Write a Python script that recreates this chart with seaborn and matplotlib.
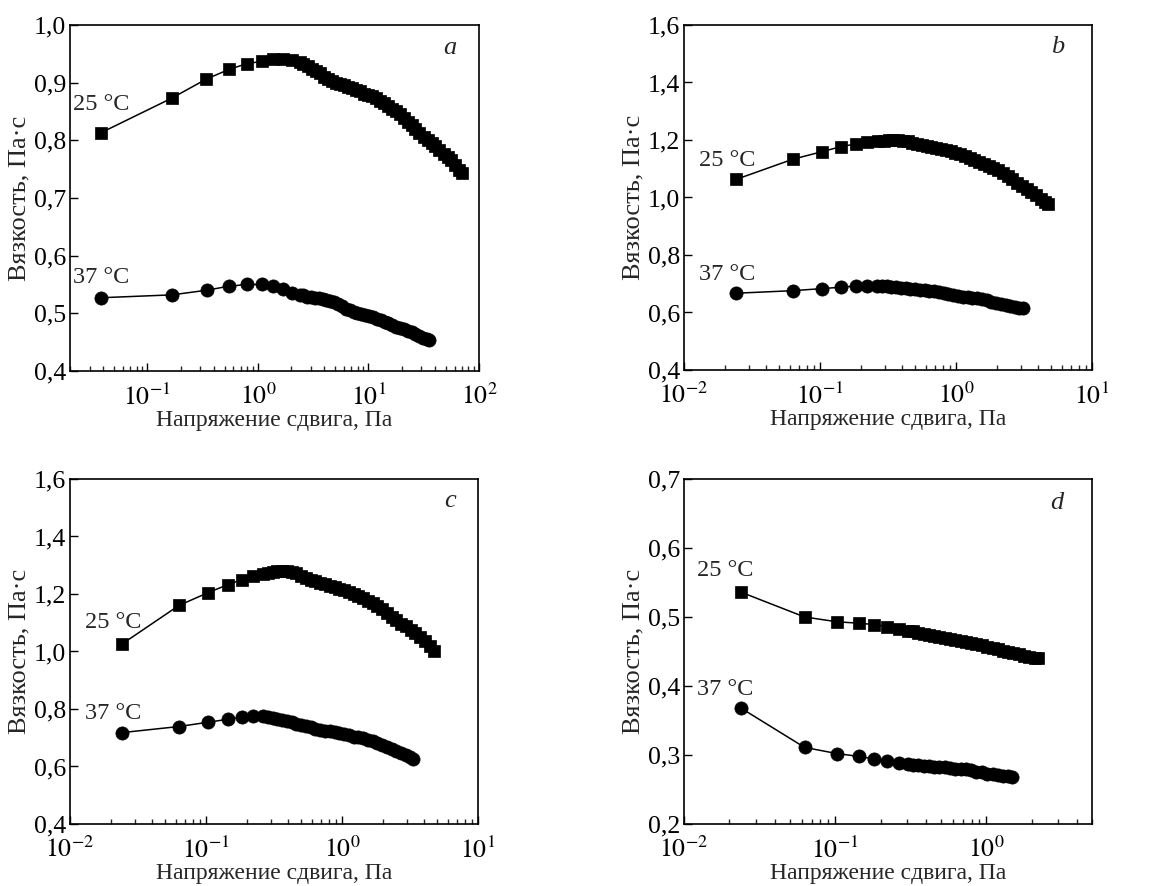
import math
import matplotlib
matplotlib.use("Agg")
import matplotlib.pyplot as plt
import seaborn as sns
from matplotlib.ticker import FuncFormatter, LogLocator, NullFormatter, FixedLocator

# ---- data (shear stress, Pa / viscosity, Pa*s) ----
a25_x = [0.038, 0.166, 0.34, 0.548, 0.796, 1.086, 1.36, 1.70, 2.02, 2.40,
         2.57, 2.82, 3.09, 3.35, 3.63, 3.98, 4.32, 4.68, 5.07, 5.50,
         6.03, 6.53, 7.08, 7.67, 8.32, 9.12, 9.89, 10.7, 11.6, 12.6,
         13.8, 15.0, 16.2, 17.6, 19.1, 20.9, 22.6, 24.5, 26.6, 28.8,
         31.6, 34.3, 37.2, 40.3, 43.7, 47.9, 51.9, 56.2, 61.0, 66.1, 70.3]
a25_y = [0.813, 0.873, 0.906, 0.923, 0.933, 0.937, 0.941, 0.941, 0.939, 0.936,
         0.933, 0.929, 0.924, 0.921, 0.916, 0.910, 0.906, 0.903, 0.900, 0.898,
         0.896, 0.893, 0.891, 0.888, 0.885, 0.881, 0.879, 0.876, 0.873, 0.869,
         0.864, 0.860, 0.855, 0.850, 0.845, 0.838, 0.832, 0.827, 0.820, 0.813,
         0.806, 0.801, 0.796, 0.790, 0.784, 0.777, 0.771, 0.765, 0.757, 0.749, 0.743]
a37_x = [0.038, 0.168, 0.343, 0.548, 0.796, 1.086, 1.36, 1.67, 2.02, 2.40,
         2.57, 2.79, 3.02, 3.27, 3.55, 3.85, 4.17, 4.52, 4.90, 5.31,
         5.75, 6.24, 6.76, 7.33, 7.94, 8.61, 9.33, 10.1, 11.0, 11.9,
         12.9, 14.0, 15.1, 16.4, 17.8, 19.3, 20.9, 22.6, 24.5, 26.6,
         28.8, 31.3, 33.5, 35.1]
a37_y = [0.527, 0.532, 0.540, 0.547, 0.550, 0.550, 0.547, 0.542, 0.536, 0.532,
         0.531, 0.529, 0.528, 0.527, 0.526, 0.525, 0.523, 0.521, 0.519, 0.516,
         0.512, 0.508, 0.505, 0.503, 0.501, 0.499, 0.497, 0.495, 0.493, 0.490,
         0.488, 0.485, 0.483, 0.480, 0.477, 0.475, 0.472, 0.470, 0.467, 0.464,
         0.461, 0.458, 0.456, 0.454]

b25_x = [0.0242, 0.0631, 0.103, 0.143, 0.183, 0.222, 0.266,
         0.295, 0.320, 0.347, 0.376, 0.407, 0.442, 0.479, 0.519, 0.562, 0.610,
         0.661, 0.716, 0.776, 0.841, 0.912, 0.989, 1.07, 1.16, 1.26, 1.36,
         1.48, 1.60, 1.74, 1.88, 2.04, 2.21, 2.40, 2.60, 2.82, 3.05,
         3.31, 3.59, 3.89, 4.22, 4.52, 4.74]
b25_y = [1.063, 1.133, 1.159, 1.177, 1.186, 1.192, 1.195,
         1.197, 1.199, 1.200, 1.200, 1.198, 1.195, 1.191, 1.187, 1.183, 1.179,
         1.175, 1.171, 1.168, 1.165, 1.161, 1.156, 1.150, 1.144, 1.139, 1.132,
         1.125, 1.118, 1.110, 1.102, 1.094, 1.085, 1.075, 1.064, 1.052, 1.041,
         1.030, 1.019, 1.007, 0.995, 0.985, 0.978]
b37_x = [0.0242, 0.0638, 0.103, 0.143, 0.183, 0.222, 0.263,
         0.285, 0.309, 0.335, 0.363, 0.394, 0.427, 0.462, 0.501, 0.543, 0.589,
         0.638, 0.692, 0.750, 0.813, 0.881, 0.955, 1.04, 1.12, 1.22, 1.32,
         1.43, 1.55, 1.68, 1.82, 1.97, 2.14, 2.32, 2.51, 2.72, 2.92, 3.09]
b37_y = [0.667, 0.676, 0.683, 0.688, 0.692, 0.693, 0.693,
         0.693, 0.692, 0.690, 0.688, 0.686, 0.684, 0.682, 0.680, 0.679, 0.677,
         0.676, 0.674, 0.672, 0.669, 0.666, 0.662, 0.658, 0.655, 0.653, 0.651,
         0.649, 0.646, 0.642, 0.638, 0.633, 0.629, 0.625, 0.621, 0.618, 0.616, 0.614]

c25_x = [0.0243, 0.0632, 0.104, 0.144, 0.184, 0.222, 0.264,
         0.285, 0.309, 0.335, 0.363, 0.394, 0.427, 0.462, 0.501, 0.543, 0.589,
         0.638, 0.692, 0.750, 0.813, 0.881, 0.955, 1.04, 1.12, 1.22, 1.32,
         1.43, 1.55, 1.68, 1.82, 1.97, 2.14, 2.32, 2.51, 2.72, 2.95,
         3.20, 3.47, 3.76, 4.07, 4.42, 4.73]
c25_y = [1.027, 1.160, 1.205, 1.232, 1.250, 1.261, 1.270,
         1.273, 1.276, 1.279, 1.281, 1.280, 1.278, 1.272, 1.264, 1.257, 1.250,
         1.244, 1.239, 1.234, 1.229, 1.224, 1.219, 1.214, 1.208, 1.201, 1.194,
         1.186, 1.177, 1.168, 1.158, 1.147, 1.133, 1.120, 1.108, 1.097, 1.087,
         1.076, 1.064, 1.050, 1.035, 1.018, 1.003]
c37_x = [0.0243, 0.0632, 0.104, 0.144, 0.184, 0.222, 0.264,
         0.285, 0.309, 0.335, 0.363, 0.394, 0.427, 0.462, 0.501, 0.543, 0.589,
         0.638, 0.692, 0.750, 0.813, 0.881, 0.955, 1.04, 1.12, 1.22, 1.32,
         1.43, 1.55, 1.68, 1.82, 1.97, 2.14, 2.32, 2.51, 2.72, 2.95, 3.16, 3.31]
c37_y = [0.718, 0.739, 0.754, 0.764, 0.771, 0.774, 0.774,
         0.772, 0.769, 0.766, 0.762, 0.758, 0.753, 0.749, 0.744, 0.740, 0.736,
         0.732, 0.728, 0.725, 0.722, 0.719, 0.716, 0.712, 0.708, 0.704, 0.701,
         0.698, 0.693, 0.687, 0.681, 0.674, 0.667, 0.660, 0.654, 0.647, 0.639, 0.632, 0.627]

d25_x = [0.0238, 0.0628, 0.103, 0.143, 0.182, 0.220, 0.263, 0.302,
         0.327, 0.355, 0.385, 0.417, 0.452, 0.490, 0.531, 0.575, 0.624, 0.676,
         0.733, 0.794, 0.861, 0.933, 1.01, 1.10, 1.19, 1.29, 1.40, 1.51,
         1.64, 1.78, 1.93, 2.09, 2.21]
d25_y = [0.536, 0.500, 0.493, 0.491, 0.489, 0.486, 0.483, 0.480,
         0.479, 0.477, 0.476, 0.474, 0.473, 0.471, 0.470, 0.468, 0.467, 0.465,
         0.464, 0.462, 0.461, 0.459, 0.457, 0.455, 0.453, 0.451, 0.449, 0.448,
         0.446, 0.444, 0.442, 0.441, 0.440]
d37_x = [0.0238, 0.0628, 0.103, 0.143, 0.182, 0.220, 0.263, 0.302,
         0.327, 0.355, 0.385, 0.417, 0.452, 0.490, 0.531, 0.575, 0.624, 0.676,
         0.733, 0.794, 0.861, 0.933, 1.01, 1.10, 1.19, 1.29, 1.40, 1.48]
d37_y = [0.368, 0.311, 0.302, 0.298, 0.294, 0.291, 0.288, 0.287,
         0.286, 0.285, 0.284, 0.284, 0.283, 0.282, 0.282, 0.281, 0.280, 0.279,
         0.279, 0.278, 0.276, 0.275, 0.273, 0.272, 0.271, 0.270, 0.269, 0.268]

panel_letters = ["a", "b", "c", "d"]
temp_labels = ["25 °C", "37 °C"]
xlabel = "Напряжение сдвига, Па"
ylabel = "Вязкость, Па·с"

sns.set_style("ticks")
plt.rcParams["font.family"] = ["Liberation Serif", "DejaVu Serif"]
plt.rcParams["mathtext.fontset"] = "stix"
plt.rcParams["font.size"] = 17

fig = plt.figure(figsize=(11.75, 8.86), dpi=100)

# axes boxes in figure fractions
boxes = [
    [0.0596, 0.5813, 0.3481, 0.3905],
    [0.5821, 0.5824, 0.3472, 0.3894],
    [0.0596, 0.0700, 0.3472, 0.3894],
    [0.5821, 0.0700, 0.3472, 0.3894],
]
panels = [
    (a25_x, a25_y, a37_x, a37_y, (0.02, 100), (0.4, 1.0), 0.1, [0.1, 1, 10, 100]),
    (b25_x, b25_y, b37_x, b37_y, (0.01, 10), (0.4, 1.6), 0.2, [0.01, 0.1, 1, 10]),
    (c25_x, c25_y, c37_x, c37_y, (0.01, 10), (0.4, 1.6), 0.2, [0.01, 0.1, 1, 10]),
    (d25_x, d25_y, d37_x, d37_y, (0.01, 5), (0.2, 0.7), 0.1, [0.01, 0.1, 1]),
]
letter_pos = [(0.929, 0.934), (0.917, 0.936), (0.931, 0.936), (0.914, 0.930)]
temp_pos = [((0.075, 0.769), (0.075, 0.270)),
            ((0.105, 0.607), (0.105, 0.278)),
            ((0.105, 0.583), (0.105, 0.320)),
            ((0.102, 0.735), (0.102, 0.391))]

for i, (x25, y25, x37, y37, xlim, ylim, ystep, xmaj) in enumerate(panels):
    ax = fig.add_axes(boxes[i])
    sns.lineplot(x=x25, y=y25, ax=ax, color="black", linewidth=1.1,
                 marker="s", markersize=9, markeredgecolor="black",
                 markeredgewidth=0.5, estimator=None, sort=False)
    sns.lineplot(x=x37, y=y37, ax=ax, color="black", linewidth=1.1,
                 marker="o", markersize=9.5, markeredgecolor="black",
                 markeredgewidth=0.5, estimator=None, sort=False)
    ax.set_xscale("log")
    ax.set_xlim(*xlim)
    ax.set_ylim(*ylim)

    ax.xaxis.set_major_locator(FixedLocator(xmaj))
    ax.xaxis.set_major_formatter(FuncFormatter(
        lambda v, p: r"$10^{%d}$" % round(math.log10(v))))
    ax.xaxis.set_minor_locator(LogLocator(base=10, subs=range(2, 10), numticks=20))
    ax.xaxis.set_minor_formatter(NullFormatter())

    n = int(round((ylim[1] - ylim[0]) / ystep))
    ax.set_yticks([ylim[0] + k * ystep for k in range(n + 1)])
    ax.yaxis.set_major_formatter(FuncFormatter(lambda v, p: f"{v:.1f}".replace(".", ",")))

    ax.tick_params(axis="both", which="major", direction="in", length=6,
                   width=1, labelsize=18.5, colors="black")
    ax.tick_params(axis="x", which="major", pad=9)
    ax.tick_params(axis="y", which="major", pad=3)
    ax.tick_params(axis="x", which="minor", direction="in", length=3.5, width=1)
    for s in ax.spines.values():
        s.set_linewidth(1.2)
        s.set_color("black")

    ax.set_xlabel(xlabel, fontsize=17, labelpad=0)
    ax.set_ylabel(ylabel, fontsize=19, labelpad=2)

    ax.text(*letter_pos[i], panel_letters[i], transform=ax.transAxes,
            fontsize=19, style="italic", ha="center", va="center")
    for (tx, ty), lab in zip(temp_pos[i], temp_labels):
        ax.text(tx, ty, lab, transform=ax.transAxes, fontsize=17.5,
                ha="center", va="center")

fig.savefig("out.png", dpi=100)
plt.close(fig)
